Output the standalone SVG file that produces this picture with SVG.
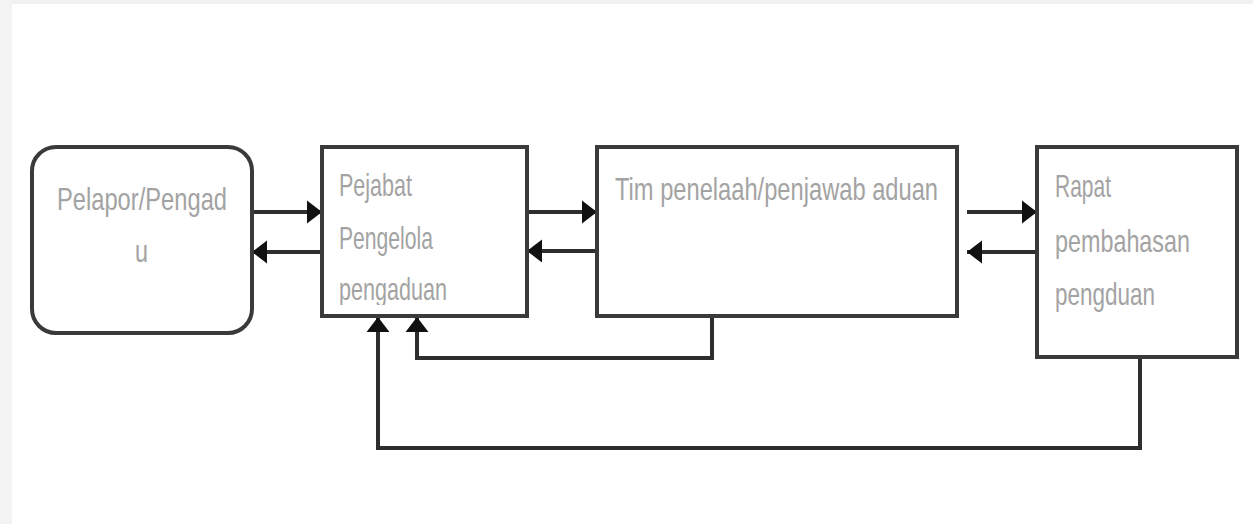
<svg xmlns="http://www.w3.org/2000/svg" width="1253" height="524" viewBox="0 0 1253 524">
  <style>
    .box { fill: #ffffff; stroke: #3a3a3a; stroke-width: 4; }
    .lbl { font-family: "Liberation Sans", Arial, sans-serif; font-size: 32px; fill: #a3a3a3; }
    .wire { fill: none; stroke: #2e2e2e; stroke-width: 4; }
  </style>
  <defs>
    <marker id="head" viewBox="0 0 10 10" refX="10" refY="5" markerWidth="3.8" markerHeight="5.8" markerUnits="strokeWidth" orient="auto" preserveAspectRatio="none">
      <path d="M0,0 L10,5 L0,10 Z" fill="#111111"/>
    </marker>
    <clipPath id="clipPejabat"><rect x="324" y="149" width="201" height="156"/></clipPath>
  </defs>

  <!-- page background with light frame -->
  <rect x="0" y="0" width="1253" height="524" fill="#ffffff"/>
  <rect x="0" y="0" width="1253" height="4" fill="#f1f1f1"/>
  <rect x="0" y="0" width="12" height="524" fill="#f3f3f3"/>

  <!-- connectors -->
  <g id="connectors">
    <line class="wire" x1="252" y1="212" x2="322" y2="212" marker-end="url(#head)"/>
    <line class="wire" x1="322" y1="252" x2="252" y2="252" marker-end="url(#head)"/>
    <line class="wire" x1="527" y1="212" x2="597" y2="212" marker-end="url(#head)"/>
    <line class="wire" x1="597" y1="251" x2="527" y2="251" marker-end="url(#head)"/>
    <line class="wire" x1="967" y1="212" x2="1037" y2="212" marker-end="url(#head)"/>
    <line class="wire" x1="1037" y1="252" x2="967" y2="252" marker-end="url(#head)"/>
    <polyline class="wire" points="712,316 712,358 417,358 417,317" marker-end="url(#head)"/>
    <polyline class="wire" points="1140,357 1140,448 378,448 378,317" marker-end="url(#head)"/>
  </g>

  <g id="pelapor">
    <rect class="box" x="32" y="147" width="220" height="186" rx="24" ry="24"/>
    <text class="lbl" x="57" y="210" textLength="170" lengthAdjust="spacingAndGlyphs">Pelapor/Pengad</text>
    <text class="lbl" x="135" y="262" textLength="13" lengthAdjust="spacingAndGlyphs">u</text>
  </g>

  <g id="pejabat">
    <rect class="box" x="322" y="147" width="205" height="169"/>
    <g clip-path="url(#clipPejabat)">
      <text class="lbl" x="339" y="196" textLength="73" lengthAdjust="spacingAndGlyphs">Pejabat</text>
      <text class="lbl" x="339" y="249" textLength="94" lengthAdjust="spacingAndGlyphs">Pengelola</text>
      <text class="lbl" x="339" y="300" textLength="108" lengthAdjust="spacingAndGlyphs">pengaduan</text>
    </g>
  </g>

  <g id="tim">
    <rect class="box" x="597" y="147" width="360" height="169"/>
    <text class="lbl" x="615" y="200" textLength="323" lengthAdjust="spacingAndGlyphs">Tim penelaah/penjawab aduan</text>
  </g>

  <g id="rapat">
    <rect class="box" x="1037" y="147" width="200" height="210"/>
    <text class="lbl" x="1055" y="197" textLength="56" lengthAdjust="spacingAndGlyphs">Rapat</text>
    <text class="lbl" x="1055" y="252" textLength="135" lengthAdjust="spacingAndGlyphs">pembahasan</text>
    <text class="lbl" x="1055" y="305" textLength="100" lengthAdjust="spacingAndGlyphs">pengduan</text>
  </g>
</svg>
